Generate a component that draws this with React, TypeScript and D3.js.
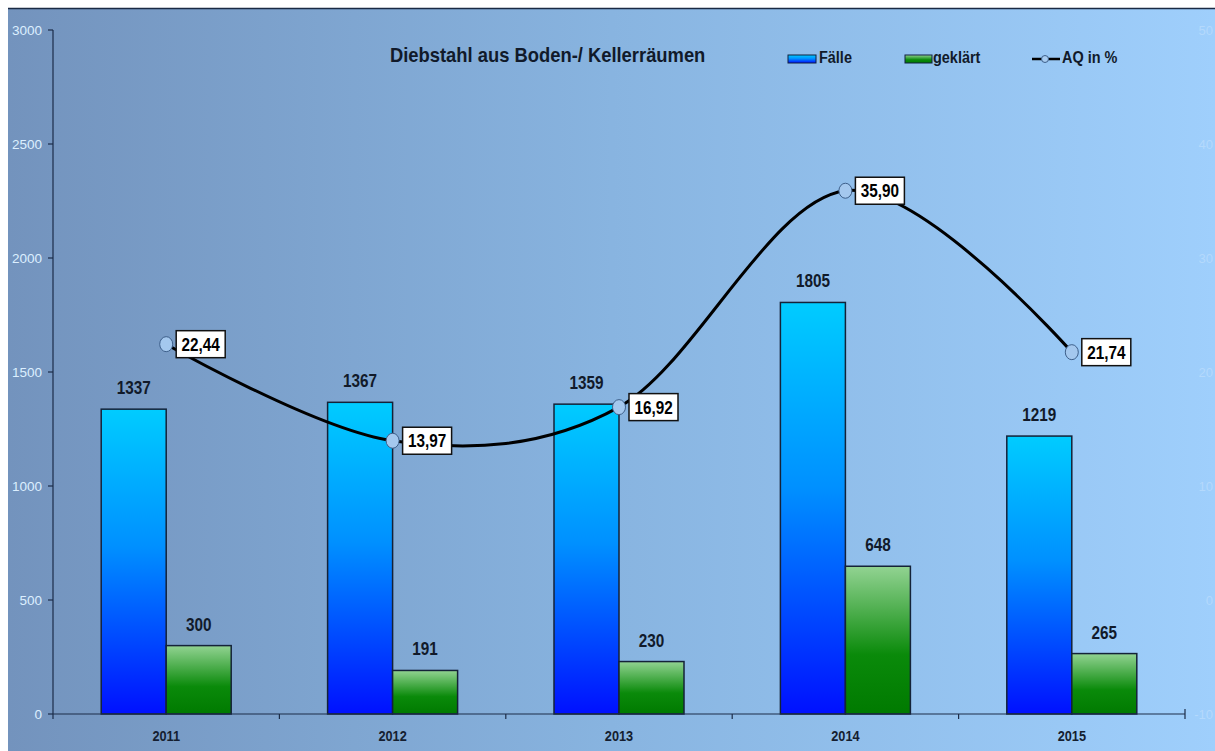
import React from 'react';
import * as d3 from 'd3';

const years = ['2011', '2012', '2013', '2014', '2015'];
const faelle = [1337, 1367, 1359, 1805, 1219];
const geklaert = [300, 191, 230, 648, 265];
const aq = [22.44, 13.97, 16.92, 35.9, 21.74];
const leftTicks = [0, 500, 1000, 1500, 2000, 2500, 3000];
const rightTicks = [-10, 0, 10, 20, 30, 40, 50];

const W = 1215;
const H = 751;
const left = 53;
const right = 1185;
const top = 30;
const bottom = 714;
const sans = "'Liberation Sans', Arial, sans-serif";

type NProps = {
  x: number;
  y: number;
  size: number;
  anchor?: 'start' | 'middle' | 'end';
  fill?: string;
  sx?: number;
  children: React.ReactNode;
};

function NText({ x, y, size, anchor = 'start', fill = '#111a2a', sx = 0.85, children }: NProps) {
  return (
    <text
      transform={`translate(${x},${y}) scale(${sx},1)`}
      textAnchor={anchor}
      fontFamily={sans}
      fontWeight="bold"
      fontSize={size}
      fill={fill}
    >
      {children}
    </text>
  );
}

export default function App() {
  const x = d3.scaleBand<string>().domain(years).range([left, right]).padding(0);
  const yL = d3.scaleLinear().domain([0, 3000]).range([bottom, top]);
  const yR = d3.scaleLinear().domain([-10, 50]).range([bottom, top]);
  const bw = 65;
  const cx = (i: number) => (x(years[i]) as number) + x.bandwidth() / 2;

  const line = d3
    .line<number>()
    .x((_, i) => cx(i))
    .y((d) => yR(d))
    .curve(d3.curveCardinal.tension(0));

  const fmt = (v: number) => v.toFixed(2).replace('.', ',');

  return (
    <svg width={W} height={H} style={{ position: 'absolute', left: 0, top: 0 }}>
      <defs>
        <linearGradient id="bg" x1="0" x2="1" y1="0" y2="0">
          <stop offset="0" stopColor="#7393bd" />
          <stop offset="0.5" stopColor="#88b4e0" />
          <stop offset="1" stopColor="#9fcffc" />
        </linearGradient>
        <linearGradient id="gF" x1="0" x2="0" y1="0" y2="1">
          <stop offset="0" stopColor="#00ccff" />
          <stop offset="0.45" stopColor="#0090ff" />
          <stop offset="1" stopColor="#0010ff" />
        </linearGradient>
        <linearGradient id="gG" x1="0" x2="0" y1="0" y2="1">
          <stop offset="0" stopColor="#92d392" />
          <stop offset="0.6" stopColor="#0a8a0a" />
          <stop offset="1" stopColor="#007a00" />
        </linearGradient>
      </defs>
      <rect x={0} y={0} width={W} height={H} fill="#ffffff" />
      <rect x={8} y={8} width={W - 8} height={H - 8} fill="url(#bg)" />
      <line x1={8} x2={W} y1={8.5} y2={8.5} stroke="#1a2a44" strokeWidth={1.5} />

      {/* title */}
      <NText x={390} y={62} size={21} sx={0.875}>
        Diebstahl aus Boden-/ Kellerräumen
      </NText>

      {/* legend */}
      <rect x={788} y={55} width={28} height={8} fill="url(#gF)" stroke="#102040" strokeWidth={1} />
      <NText x={819} y={63} size={17}>Fälle</NText>
      <rect x={905} y={55} width={27} height={8} fill="url(#gG)" stroke="#102040" strokeWidth={1} />
      <NText x={933} y={63} size={17}>geklärt</NText>
      <line x1={1032} x2={1060} y1={59} y2={59} stroke="#000" strokeWidth={2.5} />
      <circle cx={1045} cy={59} r={3.5} fill="#a8ccf0" stroke="#3d5f8a" strokeWidth={1} />
      <NText x={1062} y={63} size={17}>AQ in %</NText>

      {/* left axis */}
      <line x1={left} x2={left} y1={top} y2={bottom} stroke="#1c2c48" strokeWidth={1.2} />
      {leftTicks.map((t) => (
        <g key={'l' + t}>
          <line x1={left - 5} x2={left} y1={yL(t)} y2={yL(t)} stroke="#1c2c48" strokeWidth={1.2} />
          <text x={42} y={yL(t) + 5} textAnchor="end" fontFamily={sans} fontSize={13.5} fill="#dcefff">
            {t}
          </text>
        </g>
      ))}

      {/* right axis labels (faint) */}
      {rightTicks.map((t) => (
        <text key={'r' + t} x={1213} y={yR(t) + 5} textAnchor="end" fontFamily={sans} fontSize={13} fill="#b4d9fc">
          {t}
        </text>
      ))}

      {/* bars */}
      {years.map((yr, i) => {
        const c = cx(i);
        return (
          <g key={yr}>
            <rect x={c - bw} y={yL(faelle[i])} width={bw} height={bottom - yL(faelle[i])} fill="url(#gF)" stroke="#142238" strokeWidth={1.5} />
            <rect x={c} y={yL(geklaert[i])} width={bw} height={bottom - yL(geklaert[i])} fill="url(#gG)" stroke="#142238" strokeWidth={1.5} />
            <NText x={c - bw / 2} y={yL(faelle[i]) - 15} size={18} anchor="middle">
              {faelle[i]}
            </NText>
            <NText x={c + bw / 2} y={yL(geklaert[i]) - 15} size={18} anchor="middle">
              {geklaert[i]}
            </NText>
          </g>
        );
      })}

      {/* x axis */}
      <line x1={left} x2={right} y1={bottom} y2={bottom} stroke="#1c2c48" strokeWidth={1.2} />
      {years.map((yr) => (
        <line key={'t' + yr} x1={x(yr) as number} x2={x(yr) as number} y1={bottom} y2={bottom + 5} stroke="#1c2c48" strokeWidth={1.2} />
      ))}
      <line x1={right} x2={right} y1={bottom - 5} y2={bottom + 5} stroke="#1c2c48" strokeWidth={1.2} />
      {years.map((yr, i) => (
        <NText key={'x' + yr} x={cx(i)} y={741} size={15} anchor="middle" fill="#151e30">
          {yr}
        </NText>
      ))}

      {/* AQ line */}
      <path d={line(aq) || ''} fill="none" stroke="#000" strokeWidth={3} />
      {aq.map((v, i) => {
        const px = cx(i);
        const py = yR(v);
        return (
          <g key={'a' + i}>
            <ellipse cx={px} cy={py} rx={6.5} ry={7.5} fill="#a4c8ee" stroke="#3d5f8a" strokeWidth={1} />
            <rect x={px + 10} y={py - 13.5} width={49} height={27} fill="#ffffff" stroke="#111" strokeWidth={1.5} />
            <NText x={px + 34.5} y={py + 6.5} size={18} anchor="middle" fill="#000">
              {fmt(v)}
            </NText>
          </g>
        );
      })}
    </svg>
  );
}
